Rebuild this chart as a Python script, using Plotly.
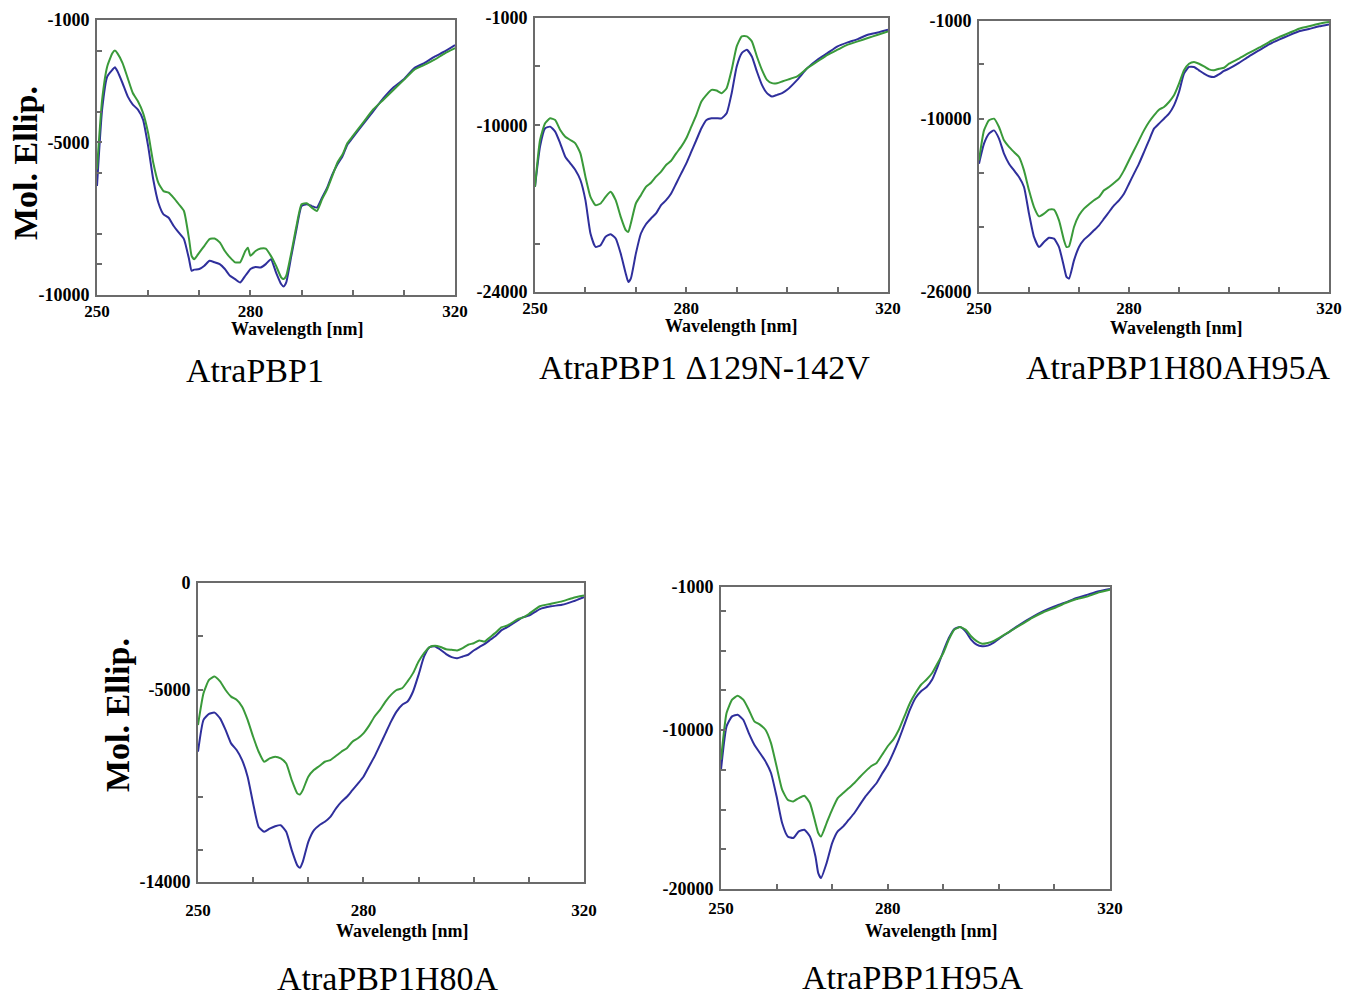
import plotly.graph_objects as go

W, H = 1345, 998

# ---------------- data ----------------
p1_x = [250, 251, 252, 253, 253.5, 254, 255, 256, 257, 258, 259, 260, 261, 262, 263, 264, 265, 266, 267, 268,
        268.5, 269, 270, 271, 272, 273, 274, 275, 276, 277, 278, 279, 279.5, 280, 281, 282, 283, 284, 285, 286,
        286.5, 287, 288, 289, 290, 291, 292, 293, 294, 295, 296, 297, 298, 299, 300, 302, 304, 306, 308, 310,
        312, 314, 316, 318, 320]
p1_green = [-5890, -3610, -2520, -2090, -2000, -2090, -2410, -2900, -3390, -3660, -4040, -4700, -5670, -6330,
            -6600, -6650, -6820, -7030, -7250, -8170, -8720, -8830, -8610, -8390, -8170, -8150, -8280, -8560,
            -8770, -8930, -8930, -8560, -8450, -8720, -8560, -8480, -8480, -8720, -9040, -9420, -9480, -9370,
            -8610, -7740, -7030, -7000, -7140, -7250, -6870, -6540, -6110, -5670, -5400, -5020, -4800, -4370,
            -3930, -3610, -3280, -2960, -2630, -2470, -2300, -2090, -1920]
p1_blue = [-6430, -3930, -2850, -2630, -2550, -2680, -3070, -3500, -3770, -3930, -4260, -5130, -6220, -6980,
           -7360, -7470, -7740, -7960, -8170, -8830, -9210, -9170, -9150, -9040, -8880, -8930, -8990, -9150,
           -9370, -9480, -9590, -9370, -9260, -9150, -9080, -9100, -8990, -8830, -9260, -9640, -9720, -9590,
           -8720, -7850, -7090, -7030, -7090, -7140, -6820, -6490, -6060, -5730, -5460, -5070, -4850, -4420,
           -3990, -3560, -3200, -2940, -2580, -2410, -2200, -2030, -1820]

p2_x = [250, 251, 252, 253, 254, 255, 256, 257, 258, 259, 260, 261, 262, 263, 264, 265, 266, 267, 268, 268.5,
        269, 270, 271, 272, 273, 274, 275, 276, 277, 278, 279, 280, 281, 282, 283, 284, 285, 286, 287, 288,
        289, 290, 291, 292, 293, 294, 295, 296, 297, 298, 299, 300, 302, 304, 306, 308, 310, 312, 314, 316,
        318, 320]
p2_green = [-15170, -11240, -9840, -9420, -9560, -10400, -10960, -11240, -11520, -12360, -14320, -16010,
            -16710, -16570, -16010, -15590, -16290, -17690, -18810, -18950, -18250, -16570, -15870, -15170,
            -14830, -14320, -13900, -13340, -12980, -12360, -11800, -11100, -10120, -9130, -8010, -7450, -7030,
            -7090, -7310, -6890, -5350, -3380, -2540, -2540, -2960, -4230, -5350, -6190, -6470, -6470, -6330,
            -6190, -5910, -5210, -4650, -4090, -3660, -3240, -2960, -2680, -2400, -2120]
p2_blue = [-15170, -11800, -10260, -10120, -10540, -11520, -12640, -13200, -13760, -14600, -16290, -19090,
           -20210, -20070, -19370, -19150, -19510, -20780, -22460, -23160, -22880, -20780, -19090, -18310,
           -17830, -17410, -16710, -16290, -15730, -14890, -14040, -13200, -12220, -11240, -10260, -9560,
           -9420, -9420, -9420, -9000, -7310, -5070, -3950, -3660, -4230, -5490, -6610, -7310, -7590, -7450,
           -7310, -7030, -6190, -5210, -4510, -3950, -3380, -3050, -2770, -2400, -2210, -1980]

p3_x = [250, 251, 252, 253, 254, 255, 256, 257, 258, 259, 260, 261, 262, 263, 264, 265, 266, 267, 267.5, 268,
        269, 270, 271, 272, 273, 274, 275, 276, 277, 278, 279, 280, 281, 282, 283, 284, 285, 286, 287, 288,
        289, 290, 291, 292, 293, 294, 295, 296, 297, 298, 299, 300, 302, 304, 306, 308, 310, 312, 314, 316,
        318, 320]
p3_green = [-13850, -11090, -10160, -10010, -10780, -12010, -12620, -13090, -13550, -14780, -16620, -18160,
            -19020, -18770, -18400, -18400, -19390, -21230, -21850, -21790, -20000, -18930, -18310, -17910,
            -17540, -17240, -16620, -16310, -15940, -15540, -14780, -13850, -12930, -12010, -11090, -10320,
            -9700, -9180, -8930, -8470, -7860, -6780, -5550, -4940, -4780, -4940, -5180, -5460, -5550, -5400,
            -5310, -4940, -4470, -3950, -3460, -2940, -2480, -2110, -1710, -1490, -1250, -1090]
p3_blue = [-14160, -12320, -11390, -11090, -11850, -13240, -14160, -14780, -15390, -16310, -18770, -20920,
           -21850, -21390, -20990, -21080, -21850, -23690, -24610, -24770, -23080, -21850, -21170, -20770,
           -20310, -19850, -19240, -18620, -18010, -17540, -16930, -16010, -15080, -14160, -13090, -12010,
           -10930, -10470, -10010, -9550, -8780, -7550, -5860, -5240, -5240, -5550, -5860, -6100, -6170, -5920,
           -5610, -5400, -4870, -4260, -3710, -3160, -2720, -2320, -1950, -1740, -1490, -1310]

p4_x = [250, 251, 252, 253, 254, 255, 256, 257, 258, 259, 260, 261, 262, 263, 264, 265, 266, 267, 268, 268.5,
        269, 270, 271, 272, 273, 274, 275, 276, 277, 278, 279, 280, 281, 282, 283, 284, 285, 286, 287, 288,
        289, 290, 291, 292, 293, 294, 295, 296, 297, 298, 299, 300, 301, 302, 303, 304, 305, 306, 307, 308,
        309, 310, 312, 314, 316, 318, 320]
p4_green = [-6650, -5160, -4540, -4380, -4610, -5010, -5320, -5470, -5790, -6410, -7200, -7900, -8370, -8210,
            -8130, -8210, -8450, -9230, -9850, -9900, -9700, -9070, -8760, -8570, -8370, -8290, -8100, -7900,
            -7740, -7430, -7270, -7040, -6690, -6260, -5940, -5550, -5240, -5010, -4930, -4610, -4220, -3680,
            -3280, -3000, -2940, -3000, -3100, -3130, -3160, -3050, -2890, -2820, -2690, -2740, -2530, -2320,
            -2080, -2000, -1850, -1690, -1610, -1450, -1090, -970, -860, -700, -590]
p4_blue = [-7900, -6410, -6130, -6070, -6340, -6880, -7510, -7820, -8290, -9070, -10320, -11420, -11650,
           -11500, -11390, -11340, -11650, -12510, -13220, -13330, -13060, -12120, -11580, -11340, -11180,
           -10950, -10560, -10250, -10010, -9700, -9390, -9070, -8600, -8130, -7590, -7040, -6490, -6020,
           -5710, -5550, -5080, -4300, -3440, -3000, -2970, -3130, -3330, -3470, -3520, -3440, -3360, -3160,
           -3000, -2850, -2660, -2470, -2220, -2080, -1910, -1750, -1600, -1530, -1220, -1090, -1020, -860, -660]

p5_x = [250, 251, 252, 253, 254, 255, 256, 257, 258, 259, 260, 261, 262, 263, 264, 265, 266, 267, 267.5, 268,
        269, 270, 271, 272, 273, 274, 275, 276, 277, 278, 279, 280, 281, 282, 283, 284, 285, 286, 287, 288,
        289, 290, 291, 292, 293, 294, 295, 296, 297, 298, 299, 300, 302, 304, 306, 308, 310, 312, 314, 316,
        318, 320]
p5_green = [-11860, -8930, -8090, -7840, -8090, -8720, -9450, -9660, -9980, -10820, -12280, -13750, -14380,
            -14490, -14280, -14130, -14590, -15850, -16480, -16690, -15850, -15010, -14280, -13960, -13650,
            -13330, -12950, -12600, -12280, -12070, -11550, -11020, -10600, -9980, -9140, -8300, -7670, -7150,
            -6820, -6410, -5780, -5150, -4310, -3680, -3520, -3680, -4100, -4410, -4570, -4520, -4410, -4210,
            -3790, -3370, -2950, -2590, -2320, -2010, -1760, -1590, -1340, -1170]
p5_blue = [-12490, -9770, -9140, -9040, -9350, -10190, -10920, -11440, -11970, -12700, -14170, -15850, -16690,
           -16790, -16370, -16270, -16690, -17950, -19000, -19310, -18370, -17110, -16370, -16060, -15640,
           -15220, -14690, -14170, -13750, -13330, -12740, -12180, -11440, -10600, -9660, -8720, -7980, -7560,
           -7290, -6820, -5990, -5050, -4210, -3640, -3520, -3790, -4310, -4630, -4730, -4690, -4520, -4260,
           -3790, -3310, -2890, -2520, -2220, -1970, -1690, -1480, -1270, -1130]

titles = ["AtraPBP1", "AtraPBP1 Δ129N-142V", "AtraPBP1H80AH95A", "AtraPBP1H80A", "AtraPBP1H95A"]
y_ranges = [(-10000, -1000), (-24000, -1000), (-26000, -1000), (-14000, 0), (-20000, -1000)]
y_ticks = [
    [-1000, -2000, -4000, -5000, -6000, -8000, -9000, -10000],
    [-1000, -5000, -10000, -20000, -24000],
    [-1000, -5000, -10000, -15000, -20000, -26000],
    [0, -2500, -5000, -10000, -12500, -14000],
    [-1000, -2500, -5000, -7500, -10000, -12500, -15000, -17500, -20000],
]
y_labels = [
    [-1000, -5000, -10000],
    [-1000, -10000, -24000],
    [-1000, -10000, -26000],
    [0, -5000, -14000],
    [-1000, -10000, -20000],
]
x_ticks = [250, 260, 270, 280, 290, 300, 310, 320]
x_labels = [250, 280, 320]
x_label_text = "Wavelength [nm]"
y_label_text = "Mol. Ellip."

panels = [
    (p1_x, p1_green, p1_blue),
    (p2_x, p2_green, p2_blue),
    (p3_x, p3_green, p3_blue),
    (p4_x, p4_green, p4_blue),
    (p5_x, p5_green, p5_blue),
]

# ---------------- layout (pixel boxes) ----------------
boxes = [  # x0, x1, y0(top), y1(bottom)
    (97, 455, 20, 295),
    (535, 888, 18, 292),
    (979, 1329, 21, 292),
    (198, 584, 583, 882),
    (721, 1110, 587, 889),
]
title_pos = [(255, 370), (704, 367), (1178, 368), (387, 978), (912, 977)]
xlab_pos = [(297, 329), (731, 326), (1176, 328), (403, 931), (931, 931)]
xtick_standoff = [0, 0, 0, 12, 3]
ylab_pos = [(25, 163), (117, 715)]

GREEN = "#3a9a3a"
BLUE = "#2f2f9c"
AXC = "#6b6b6b"
SERIF = "Liberation Serif, Times New Roman, serif"

fig = go.Figure()
layout = dict(
    template="none",
    width=W, height=H, margin=dict(l=0, r=0, t=0, b=0, pad=0),
    paper_bgcolor="white", plot_bgcolor="white", showlegend=False,
    annotations=[],
)

for i, ((xs, g, b), (x0, x1, yt, yb)) in enumerate(zip(panels, boxes)):
    n = i + 1
    xa = "x" if n == 1 else f"x{n}"
    ya = "y" if n == 1 else f"y{n}"
    fig.add_trace(go.Scatter(x=xs, y=b, mode="lines", line=dict(color=BLUE, width=2, shape="spline", smoothing=0.5),
                             xaxis=xa, yaxis=ya, hoverinfo="skip"))
    fig.add_trace(go.Scatter(x=xs, y=g, mode="lines", line=dict(color=GREEN, width=2, shape="spline", smoothing=0.5),
                             xaxis=xa, yaxis=ya, hoverinfo="skip"))
    xkey = "xaxis" if n == 1 else f"xaxis{n}"
    ykey = "yaxis" if n == 1 else f"yaxis{n}"
    layout[xkey] = dict(
        domain=[x0 / W, x1 / W], anchor=ya, range=[250, 320], automargin=False,
        tickmode="array", tickvals=x_ticks,
        ticktext=[str(v) if v in x_labels else "" for v in x_ticks],
        ticks="inside", ticklen=5, tickcolor=AXC, tickwidth=1.5,
        showline=True, linecolor=AXC, linewidth=2, mirror=True,
        showgrid=False, zeroline=False,
        ticklabelstandoff=xtick_standoff[i],
        tickfont=dict(family=SERIF, size=17, color="black", weight="bold"),
    )
    ylo, yhi = y_ranges[i]
    layout[ykey] = dict(
        domain=[1 - yb / H, 1 - yt / H], anchor=xa, range=[ylo, yhi], automargin=False,
        tickmode="array", tickvals=y_ticks[i],
        ticktext=[str(v) if v in y_labels[i] else "" for v in y_ticks[i]],
        ticks="inside", ticklen=5, tickcolor=AXC, tickwidth=1.5,
        showline=True, linecolor=AXC, linewidth=2, mirror=True,
        showgrid=False, zeroline=False, ticklabelstandoff=2,
        tickfont=dict(family=SERIF, size=18, color="black", weight="bold"),
    )
    tx, ty = title_pos[i]
    layout["annotations"].append(dict(
        text=titles[i], x=tx / W, y=1 - ty / H, xref="paper", yref="paper",
        showarrow=False, xanchor="center", yanchor="middle",
        font=dict(family=SERIF, size=34, color="black")))
    lx, ly = xlab_pos[i]
    layout["annotations"].append(dict(
        text=f"<b>{x_label_text}</b>", x=lx / W, y=1 - ly / H, xref="paper", yref="paper",
        showarrow=False, xanchor="center", yanchor="middle",
        font=dict(family=SERIF, size=18, color="black")))

for (lx, ly) in ylab_pos:
    layout["annotations"].append(dict(
        text=f"<b>{y_label_text}</b>", x=lx / W, y=1 - ly / H, xref="paper", yref="paper",
        showarrow=False, xanchor="center", yanchor="middle", textangle=-90,
        font=dict(family=SERIF, size=34, color="black")))

fig.update_layout(**layout)
fig.write_html("out.html")
